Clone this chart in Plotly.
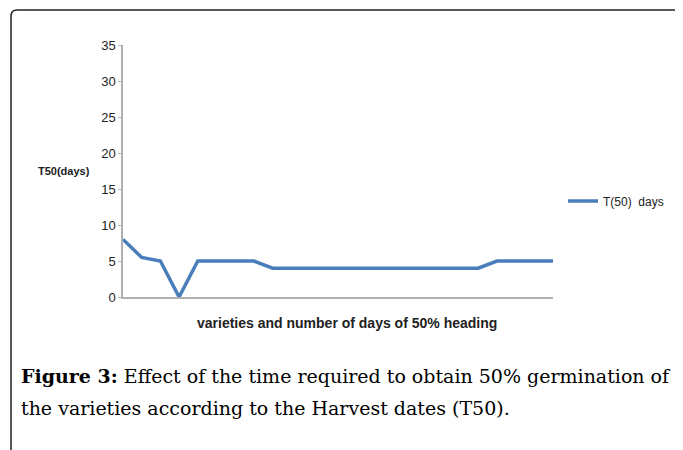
import plotly.graph_objects as go

varieties = list(range(1, 25))
t50_days = [8, 5.5, 5, 0, 5, 5, 5, 5, 4, 4, 4, 4, 4, 4, 4, 4, 4, 4, 4, 4, 5, 5, 5, 5]
y_ticks = [0, 5, 10, 15, 20, 25, 30, 35]

OFF = 8  # page body margin
W, H = 683 - OFF, 450 - OFF
L, R, T, B = 123 - OFF, 553 - OFF, 45 - OFF, 297 - OFF

def px(x):
    return (x - OFF - L) / (R - L)

def py(y):
    return (B - (y - OFF)) / (B - T)

fig = go.Figure()
fig.add_trace(go.Scatter(
    x=varieties, y=t50_days, mode="lines", name="T(50)  days",
    line=dict(color="#4a7ebb", width=3.5),
))

tick_font = dict(size=13, family="Liberation Sans Narrow, Liberation Sans, Arial", color="#222")

fig.update_layout(
    width=W, height=H,
    margin=dict(l=L, r=W - R, t=T, b=H - B, pad=0),
    paper_bgcolor="white", plot_bgcolor="white",
    font=dict(family="Liberation Sans, Arial, sans-serif", size=12, color="#222"),
    showlegend=True,
    legend=dict(x=px(563), y=py(201), xanchor="left", yanchor="middle",
                font=dict(size=12, family="Liberation Sans Narrow, Liberation Sans, Arial", color="#222"),
                bgcolor="rgba(0,0,0,0)", borderwidth=0, itemwidth=30),
    xaxis=dict(range=[1, 24], showgrid=False, zeroline=False, showticklabels=False,
               ticks="", showline=True, linecolor="#b0b0b0", linewidth=1.5, fixedrange=True),
    yaxis=dict(range=[0, 35], tickvals=y_ticks, showgrid=False, zeroline=False,
               ticks="outside", ticklen=3, tickcolor="#b0b0b0", showline=True,
               linecolor="#b0b0b0", linewidth=1.5, tickfont=tick_font,
               fixedrange=True),
)

# Y-axis title (horizontal)
fig.add_annotation(x=px(64), y=py(171), xref="paper", yref="paper",
                   xanchor="center", yanchor="middle",
                   text="<b>T50(days)</b>", showarrow=False,
                   font=dict(size=11, family="Liberation Sans Narrow, Liberation Sans, Arial", color="#222"))
# X-axis title
fig.add_annotation(x=px(347), y=py(323), xref="paper", yref="paper",
                   xanchor="center", yanchor="middle",
                   text="<b>varieties and number of days of 50% heading</b>", showarrow=False,
                   font=dict(size=14, family="Liberation Sans, Arial", color="#222"))

# Caption
cap_font = dict(size=19, family="DejaVu Serif, Liberation Serif, serif", color="black")
fig.add_annotation(x=px(19), y=py(376), xref="paper", yref="paper",
                   xanchor="left", yanchor="middle",
                   text="<b>Figure 3:</b> Effect of the time required to obtain 50% germination of",
                   showarrow=False, font=cap_font)
fig.add_annotation(x=px(19), y=py(408), xref="paper", yref="paper",
                   xanchor="left", yanchor="middle",
                   text="the varieties according to the Harvest dates (T50).",
                   showarrow=False, font=cap_font)

# Rounded frame
x0, y0 = px(11), py(10)
x1, yb = px(700), py(470)
rx, ry = px(17) - px(11), py(10) - py(16)
path = (f"M {x0},{yb} L {x0},{y0 - ry} Q {x0},{y0} {x0 + rx},{y0} L {x1},{y0}")
fig.add_shape(type="path", path=path, xref="paper", yref="paper",
              line=dict(color="#222", width=1.5))

fig.write_html("out.html")
